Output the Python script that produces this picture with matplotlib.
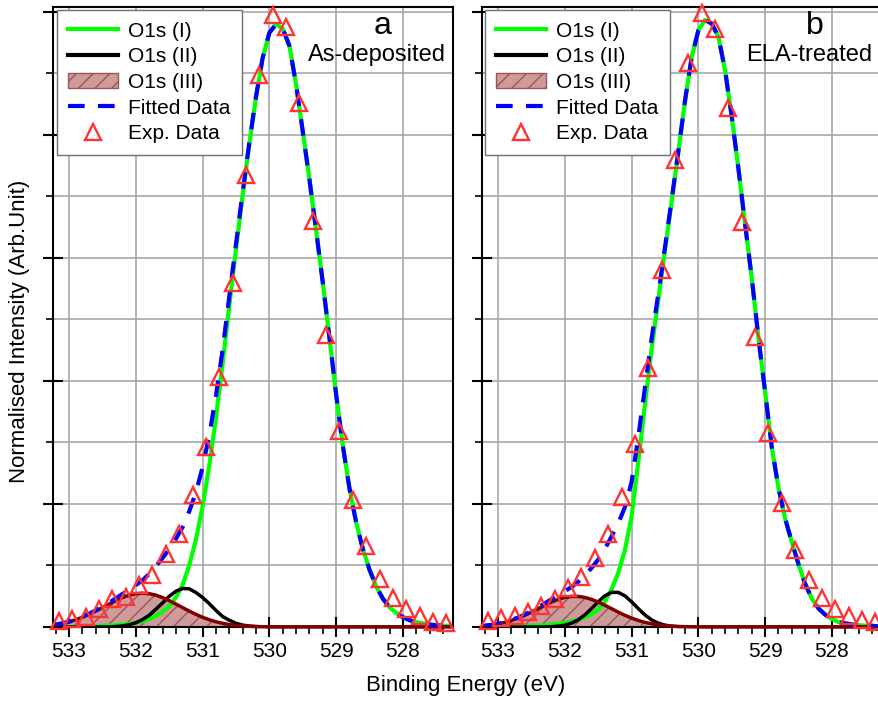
import numpy as np
import matplotlib.pyplot as plt
from matplotlib.lines import Line2D
from matplotlib.patches import Patch
from matplotlib.ticker import MultipleLocator

plt.rcParams['font.family'] = ['Liberation Sans', 'DejaVu Sans']
plt.rcParams['hatch.linewidth'] = 1.0

# binding energy axes (eV)
be_fit = np.round(np.linspace(533.2, 527.3, 60), 2)
be_exp = np.round(np.linspace(533.15, 527.35, 30), 2)

# ---- panel a: as-deposited ----
a_exp = [0.009, 0.013, 0.017, 0.029, 0.045, 0.049, 0.068, 0.085, 0.119, 0.152,
         0.215, 0.293, 0.407, 0.559, 0.735, 0.898, 0.995, 0.975, 0.852, 0.660,
         0.475, 0.319, 0.207, 0.131, 0.078, 0.047, 0.029, 0.018, 0.008, 0.006]

a_o1s_1 = [0.000, 0.000, 0.000, 0.000, 0.001, 0.001, 0.001, 0.002, 0.002, 0.003,
           0.004, 0.005, 0.007, 0.009, 0.013, 0.018, 0.025, 0.034, 0.048, 0.068,
           0.100, 0.142, 0.196, 0.262, 0.340, 0.428, 0.522, 0.614, 0.702, 0.785,
           0.861, 0.925, 0.966, 0.980, 0.973, 0.945, 0.882, 0.806, 0.728, 0.645,
           0.560, 0.470, 0.378, 0.295, 0.225, 0.170, 0.127, 0.093, 0.066, 0.046,
           0.032, 0.023, 0.016, 0.011, 0.008, 0.006, 0.004, 0.003, 0.002, 0.002]

a_o1s_2 = [0.0] * 8 + [0.0002, 0.0007,
           0.0017, 0.0037, 0.0068, 0.012, 0.019, 0.029, 0.039, 0.050, 0.058, 0.0626,
           0.0621, 0.056, 0.048, 0.038, 0.027, 0.017, 0.011, 0.006, 0.0031, 0.0015,
           0.0007, 0.0002] + [0.0] * 28

a_o1s_3 = [0.004, 0.006, 0.0085, 0.0118, 0.0158, 0.0206, 0.0259, 0.0316, 0.0373, 0.0429,
           0.0479, 0.0518, 0.0542, 0.055, 0.0542, 0.0518, 0.0479, 0.0429, 0.0373, 0.0316,
           0.0259, 0.0206, 0.0158, 0.0118, 0.0085, 0.006, 0.004, 0.0026, 0.0017, 0.0011,
           0.0007, 0.0004, 0.0002] + [0.0] * 27

# ---- panel b: ELA-treated ----
b_exp = [0.010, 0.014, 0.018, 0.025, 0.034, 0.045, 0.063, 0.082, 0.112, 0.152,
         0.212, 0.297, 0.421, 0.580, 0.759, 0.917, 0.999, 0.973, 0.843, 0.659,
         0.471, 0.315, 0.201, 0.125, 0.076, 0.047, 0.029, 0.018, 0.011, 0.008]

b_o1s_1 = [0.000, 0.000, 0.000, 0.000, 0.001, 0.001, 0.001, 0.002, 0.002, 0.003,
           0.004, 0.005, 0.007, 0.009, 0.012, 0.016, 0.021, 0.028, 0.041, 0.061,
           0.088, 0.125, 0.180, 0.268, 0.362, 0.452, 0.532, 0.612, 0.692, 0.772,
           0.855, 0.926, 0.970, 0.987, 0.981, 0.960, 0.905, 0.830, 0.745, 0.655,
           0.567, 0.470, 0.382, 0.292, 0.226, 0.176, 0.138, 0.102, 0.070, 0.046,
           0.030, 0.020, 0.013, 0.008, 0.006, 0.004, 0.003, 0.002, 0.002, 0.001]

b_o1s_2 = [0.0] * 9 + [0.0002,
           0.0005, 0.0013, 0.003, 0.0062, 0.0116, 0.0196, 0.030, 0.041, 0.0507, 0.0563,
           0.0563, 0.0507, 0.041, 0.030, 0.0196, 0.0116, 0.0062, 0.003, 0.0013, 0.0005,
           0.0002] + [0.0] * 29

b_o1s_3 = [0.0022, 0.0034, 0.0052, 0.0075, 0.0106, 0.0145, 0.019, 0.0242, 0.0298, 0.0353,
           0.0405, 0.0449, 0.0481, 0.0498, 0.0498, 0.0481, 0.0449, 0.0405, 0.0353, 0.0298,
           0.0242, 0.019, 0.0145, 0.0106, 0.0075, 0.0052, 0.0034, 0.0022, 0.0014, 0.0008,
           0.0005, 0.0003, 0.0001] + [0.0] * 27

GREEN = '#00ff00'
BLUE = '#0000ff'
RED = '#ff3333'
BROWN = '#800000'
FILL = '#cf9a9a'
HATCH = '#9a5555'
GRID = '#a8a8a8'
FIT_DASH = (0, (4, 3.2))


def draw_panel(ax, exp, c1, c2, c3, letter, label, text_x, leg_x):
    c1, c2, c3 = np.array(c1), np.array(c2), np.array(c3)
    fitted = c1 + c2 + c3

    ax.fill_between(be_fit, 0, c3, facecolor=FILL, edgecolor=HATCH,
                    hatch='//', linewidth=0, zorder=2)
    ax.plot(be_fit, c1, color=GREEN, lw=3, zorder=3)
    ax.plot(be_fit, c2, color='black', lw=2.5, zorder=3)
    ax.plot(be_fit, c3, color=BROWN, lw=2.5, zorder=4, clip_on=False)
    ax.plot(be_fit, fitted, color=BLUE, lw=3, ls=FIT_DASH, zorder=5)
    ax.plot(be_exp, exp, ls='none', marker='^', mfc='none', mec=RED,
            ms=11, mew=1.7, zorder=6, clip_on=False)

    ax.set_xlim(533.24, 527.25)
    ax.set_ylim(0, 1.008)
    ax.xaxis.set_major_locator(MultipleLocator(1))
    ax.xaxis.set_minor_locator(MultipleLocator(0.2))
    ax.yaxis.set_major_locator(MultipleLocator(0.2))
    ax.yaxis.set_minor_locator(MultipleLocator(0.1))
    ax.set_axisbelow(True)
    ax.grid(which='major', axis='x', color=GRID, lw=1.2)
    ax.grid(which='both', axis='y', color=GRID, lw=1.2)

    ax.tick_params(axis='both', which='major', direction='inout', length=14,
                   width=1.5, labelsize=15, pad=4)
    ax.tick_params(axis='both', which='minor', direction='out', length=5, width=1.2)
    ax.tick_params(axis='y', labelleft=False)
    for sp in ax.spines.values():
        sp.set_linewidth(1.5)
        sp.set_color('black')

    ax.text(text_x - 0.09, 0.977, letter, fontsize=23, ha='center', va='center')
    ax.text(text_x, 0.930, label, fontsize=17, ha='center', va='center')

    handles = [
        Line2D([], [], color=GREEN, lw=3),
        Line2D([], [], color='black', lw=3),
        Patch(facecolor=FILL, edgecolor=HATCH, hatch='//', lw=1.0),
        Line2D([], [], color=BLUE, lw=3, ls=FIT_DASH),
        Line2D([], [], ls='none', marker='^', mfc='none', mec=RED, ms=11, mew=1.7),
    ]
    labels = ['O1s (I)', 'O1s (II)', 'O1s (III)', 'Fitted Data', 'Exp. Data']
    leg = ax.legend(handles, labels, loc='upper left', bbox_to_anchor=(leg_x, 0.995),
                    borderaxespad=0, fontsize=15, handlelength=2.4, handletextpad=0.45,
                    labelspacing=0.32, borderpad=0.55, fancybox=False, framealpha=1,
                    edgecolor='#707070')
    leg.get_frame().set_linewidth(1.0)
    leg.set_zorder(10)


fig = plt.figure(figsize=(8.79, 7.03), dpi=100)
ax_a = fig.add_axes([53 / 879, 76 / 703, 400 / 879, 620 / 703])
ax_b = fig.add_axes([482 / 879, 76 / 703, 400 / 879, 620 / 703])

draw_panel(ax_a, a_exp, a_o1s_1, a_o1s_2, a_o1s_3, 'a', 'As-deposited', 528.39, 0.01)
draw_panel(ax_b, b_exp, b_o1s_1, b_o1s_2, b_o1s_3, 'b', 'ELA-treated', 528.34, 0.0075)

fig.text(466 / 879, 1 - 685 / 703, 'Binding Energy (eV)', fontsize=16,
         ha='center', va='center')
fig.text(20 / 879, 1 - 331 / 703, 'Normalised Intensity (Arb.Unit)', fontsize=16,
         rotation=90, ha='center', va='center')

fig.savefig('out.png', dpi=100)
